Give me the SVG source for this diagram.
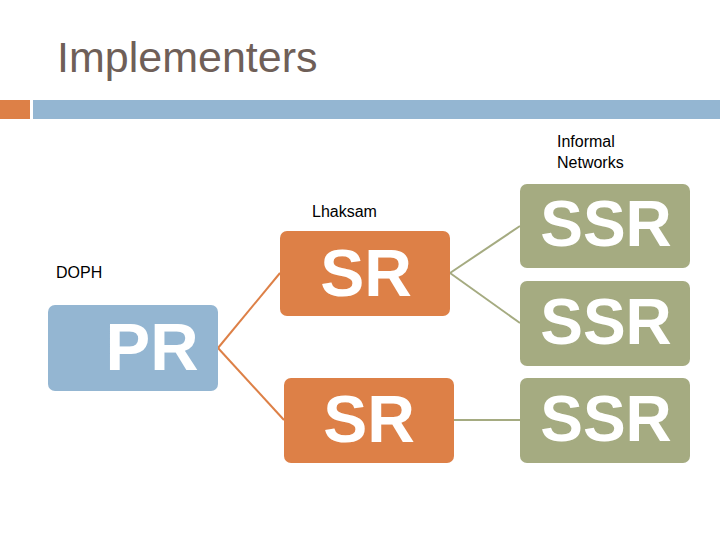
<svg xmlns="http://www.w3.org/2000/svg" width="720" height="540" viewBox="0 0 720 540">
<style>
.lbl{font-family:"Liberation Sans",Arial,sans-serif;font-size:16px;fill:#000}
.big{font-family:"Liberation Sans",Arial,sans-serif;font-weight:bold;fill:#fff;text-anchor:middle}
.or{fill:#DD8047}
.bl{fill:#94B6D2}
.gr{fill:#A5AB81}
</style>
<rect width="720" height="540" fill="#fff"/>
<text x="57" y="72" font-family="'Liberation Sans',Arial,sans-serif" font-size="43" fill="#6f5f58">Implementers</text>
<rect x="0" y="100" width="30" height="19" class="or"/>
<rect x="33" y="100" width="687" height="19" class="bl"/>
<g id="connectors" fill="none" stroke-width="2">
<line x1="218" y1="348" x2="280" y2="273" stroke="#DD8047"/>
<line x1="218" y1="348" x2="284" y2="420" stroke="#DD8047"/>
<line x1="450" y1="273" x2="520" y2="226" stroke="#A5AB81"/>
<line x1="450" y1="273" x2="520" y2="323" stroke="#A5AB81"/>
<line x1="454" y1="420" x2="520" y2="420" stroke="#A5AB81"/>
</g>
<g id="label-dooph"><text class="lbl" x="56" y="278">DOPH</text></g>
<g id="label-lhaksam"><text class="lbl" x="312" y="217">Lhaksam</text></g>
<g id="label-informal"><text class="lbl" x="557" y="147">Informal</text><text class="lbl" x="557" y="168">Networks</text></g>
<g id="pr"><rect x="48" y="305" width="170" height="86" rx="7" class="bl"/><text class="big" x="152" y="370" font-size="67">PR</text></g>
<g id="sr1"><rect x="280" y="231" width="170" height="85" rx="7" class="or"/><text class="big" x="366" y="296" font-size="66">SR</text></g>
<g id="sr2"><rect x="284" y="378" width="170" height="85" rx="7" class="or"/><text class="big" x="369" y="442" font-size="66">SR</text></g>
<g id="ssr1"><rect x="520" y="184" width="170" height="84" rx="7" class="gr"/><text class="big" x="606" y="246" font-size="64">SSR</text></g>
<g id="ssr2"><rect x="520" y="281" width="170" height="85" rx="7" class="gr"/><text class="big" x="606" y="344" font-size="64">SSR</text></g>
<g id="ssr3"><rect x="520" y="378" width="170" height="85" rx="7" class="gr"/><text class="big" x="606" y="441" font-size="64">SSR</text></g>
</svg>
